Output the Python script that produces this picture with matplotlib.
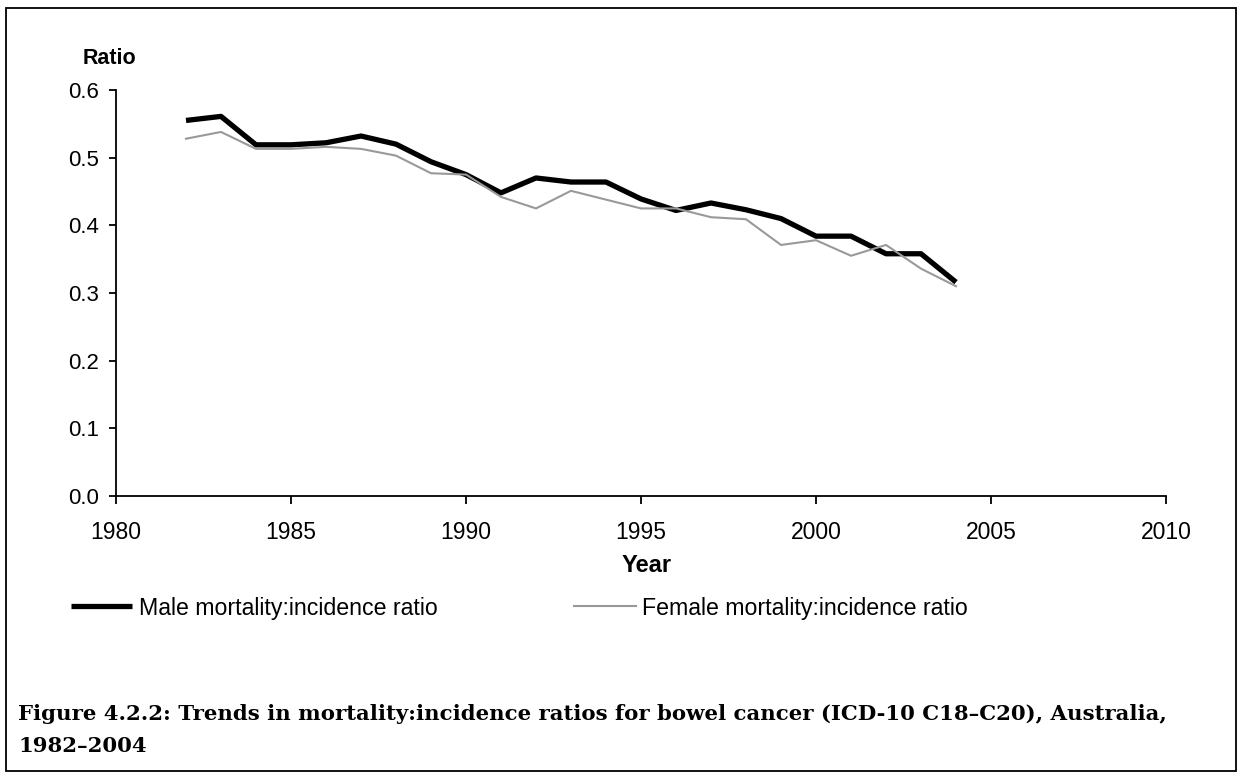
import matplotlib
matplotlib.use("Agg")
import matplotlib.pyplot as plt
from matplotlib.patches import Rectangle

# --- data ---
years = list(range(1982, 2005))
male_ratio = [0.555, 0.561, 0.519, 0.519, 0.522, 0.532, 0.520, 0.494, 0.475,
              0.448, 0.470, 0.464, 0.464, 0.439, 0.422, 0.433, 0.423, 0.410,
              0.384, 0.384, 0.358, 0.358, 0.316]
female_ratio = [0.528, 0.538, 0.513, 0.513, 0.516, 0.513, 0.503, 0.477, 0.475,
                0.442, 0.425, 0.451, 0.438, 0.425, 0.425, 0.412, 0.409, 0.371,
                0.378, 0.355, 0.371, 0.336, 0.310]
x_ticks = [1980, 1985, 1990, 1995, 2000, 2005, 2010]
y_ticks = [0.0, 0.1, 0.2, 0.3, 0.4, 0.5, 0.6]
series_labels = ["Male mortality:incidence ratio", "Female mortality:incidence ratio"]
caption = ("Figure 4.2.2: Trends in mortality:incidence ratios for bowel cancer "
           "(ICD-10 C18\u2013C20), Australia,\n1982\u20132004")

plt.rcParams["font.family"] = ["Liberation Sans", "DejaVu Sans"]

W, H = 1239, 773
fig = plt.figure(figsize=(W / 100, H / 100), dpi=100)

# axes placed in pixel terms of the reference
left, right, bottom, top = 116, 1166, 496, 90
ax = fig.add_axes([left / W, 1 - bottom / H, (right - left) / W, (bottom - top) / H])

ax.plot(years, male_ratio, color="black", lw=3.8, solid_capstyle="butt",
        label=series_labels[0])
ax.plot(years, female_ratio, color="#999999", lw=1.5, label=series_labels[1])

ax.set_xlim(1980, 2010)
ax.set_ylim(0, 0.6)
ax.set_xticks(x_ticks)
ax.set_yticks(y_ticks)
ax.set_yticklabels([f"{v:.1f}" for v in y_ticks])
ax.spines["top"].set_visible(False)
ax.spines["right"].set_visible(False)
for s in ("left", "bottom"):
    ax.spines[s].set_linewidth(1.3)
ax.tick_params(axis="y", direction="out", length=5, width=1.3, pad=7, labelsize=16)
ax.tick_params(axis="x", direction="out", length=6, width=1.3, pad=12, labelsize=16.5)

fig.text(109 / W, 1 - 58 / H, "Ratio", ha="center", va="center",
         fontsize=15.5, fontweight="bold")
fig.text(647 / W, 1 - 565 / H, "Year", ha="center", va="center",
         fontsize=17, fontweight="bold")

fig.legend(loc="center left", bbox_to_anchor=(71 / W, 1 - 608 / H), ncol=2,
           frameon=False, fontsize=16.7, borderpad=0, borderaxespad=0,
           handlelength=2.65, handletextpad=0.27, columnspacing=5.9)

fig.text(18 / W, 1 - 730 / H, caption, ha="left", va="center",
         fontsize=15.3, fontweight="bold", family=["DejaVu Serif"],
         linespacing=1.72)

# box round the whole figure
fig.patches.append(Rectangle((6 / W, 2 / H), 1230 / W, 763 / H, transform=fig.transFigure,
                             fill=False, edgecolor="black", lw=1.3))

fig.savefig("out.png", dpi=100)
